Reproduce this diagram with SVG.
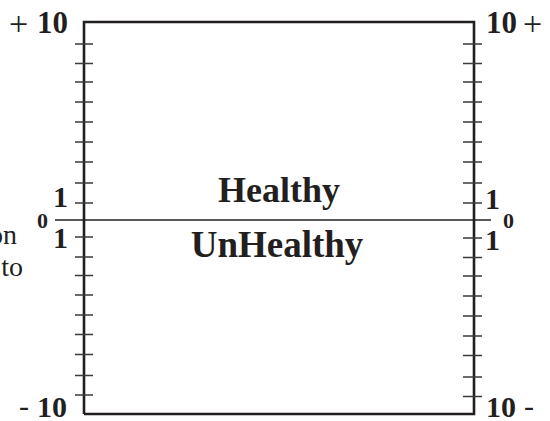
<svg xmlns="http://www.w3.org/2000/svg" width="550" height="421" viewBox="0 0 550 421">
<style>
.axis{fill:none;stroke:#231f20;stroke-width:2.6}
.tick{stroke:#3a3a3a;stroke-width:1.5}
.mid{stroke:#231f20;stroke-width:1.3}
.b{font-family:"Liberation Serif","Times New Roman",serif;font-weight:bold;fill:#231f20}
.r{font-family:"Liberation Serif","Times New Roman",serif;font-weight:normal;fill:#231f20}
</style>
<rect width="550" height="421" fill="#fff"/>
<g id="frame">
<path class="axis" d="M84,414 V22 H474 V414 H84"/>
</g>
<g id="connectors">
<line class="mid" x1="55" y1="220" x2="491" y2="220"/>
</g>
<g id="ticks-left">
<path class="tick" d="M75,44H93M75,63.5H93M75,82H93M75,102H93M75,122H93M75,142H93M75,162H93M75,183H93M75,203H93M75,237H93M75,257H93M75,275.5H93M75,295H93M75,315H93M75,334.5H93M75,354.5H93M75,375.5H93M75,395H93"/>
</g>
<g id="ticks-right">
<path class="tick" d="M463,44H482M463,63.5H482M463,82H482M463,102H482M463,122H482M463,142H482M463,162H482M463,183H482M463,203H482M463,238H482M463,257.5H482M463,276H482M463,296H482M463,316H482M463,336H482M463,355.5H482M463,377H482M463,396.5H482"/>
</g>
<g id="labels">
<text class="r" x="9" y="35" font-size="34">+</text>
<text class="b" x="37" y="33" font-size="31">10</text>
<text class="b" x="486" y="33" font-size="31">10</text>
<text class="r" x="523" y="35" font-size="34">+</text>
<text class="r" x="19" y="416" font-size="30">-</text>
<text class="b" x="37" y="417" font-size="30">10</text>
<text class="b" x="486" y="417" font-size="30">10</text>
<text class="r" x="524" y="416" font-size="30">-</text>
<text class="b" x="53" y="207" font-size="30">1</text>
<text class="b" x="53" y="248" font-size="30">1</text>
<text class="b" x="37" y="228" font-size="22">0</text>
<text class="b" x="485" y="209" font-size="30">1</text>
<text class="b" x="485" y="250" font-size="30">1</text>
<text class="b" x="503" y="228" font-size="22">0</text>
<text class="r" x="17" y="244" font-size="28" text-anchor="end">on</text>
<text class="r" x="23" y="276" font-size="28" text-anchor="end">to</text>
</g>
<g id="healthy">
<text class="b" x="279" y="202" font-size="36" text-anchor="middle">Healthy</text>
</g>
<g id="unhealthy">
<text class="b" x="277" y="257" font-size="37" text-anchor="middle">UnHealthy</text>
</g>
</svg>
